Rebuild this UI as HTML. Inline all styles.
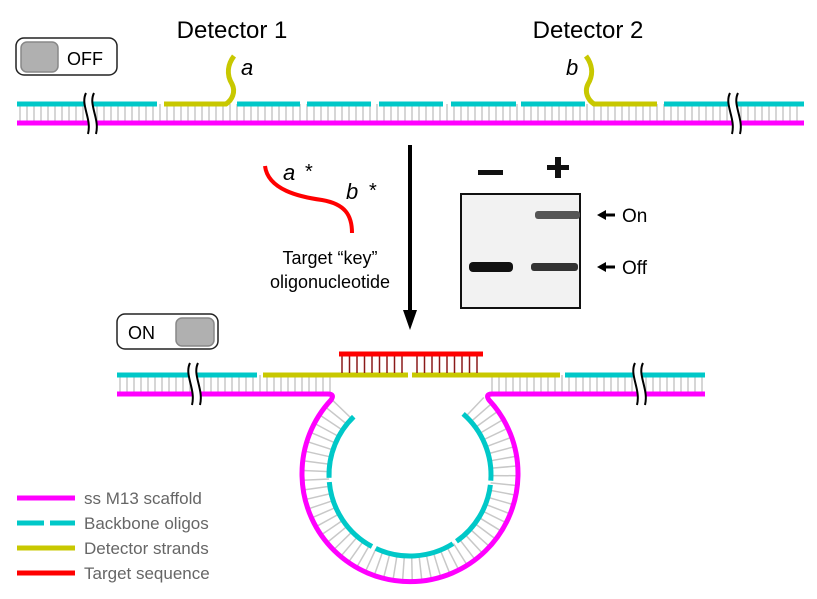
<!DOCTYPE html>
<html><head><meta charset="utf-8"><style>
html,body{margin:0;padding:0;background:#fff;}
svg{display:block;font-family:"Liberation Sans",sans-serif;}
</style></head><body>
<svg id="s" width="817" height="599" viewBox="0 0 817 599" xmlns="http://www.w3.org/2000/svg">
<g id="rungs" stroke="#c8c8c8" stroke-width="1.5"></g>
<!-- top duplex -->
<line x1="17" y1="123" x2="804" y2="123" stroke="#ff00ff" stroke-width="5"/>
<g stroke="#00c8c8" stroke-width="5">
<line x1="17" y1="104" x2="157" y2="104"/>
<line x1="237" y1="104" x2="300" y2="104"/>
<line x1="307" y1="104" x2="371" y2="104"/>
<line x1="379" y1="104" x2="443" y2="104"/>
<line x1="451" y1="104" x2="516" y2="104"/>
<line x1="521" y1="104" x2="585" y2="104"/>
<line x1="664" y1="104" x2="804" y2="104"/>
</g>
<g stroke="#c8c800" stroke-width="5" fill="none">
<path d="M164 104 H226 C232 100 236 92 232 84 C226 74 228 64 234 56"/>
<path d="M657 104 H594 C588 100 584 92 588 84 C594 74 592 64 586 56"/>
</g>
<!-- bottom duplex -->
<path d="M117 394 H328 Q335 394 331 400 A108 108 0 1 0 489 400 Q485 394 492 394 H705" stroke="#ff00ff" stroke-width="5" fill="none"/>
<g stroke="#00c8c8" stroke-width="5">
<line x1="117" y1="375" x2="257" y2="375"/>
<line x1="565" y1="375" x2="705" y2="375"/>
</g>
<g id="cyanarc" stroke="#00c8c8" stroke-width="5" fill="none"></g>
<g stroke="#c8c800" stroke-width="5">
<line x1="263" y1="375" x2="408" y2="375"/>
<line x1="412" y1="375" x2="560" y2="375"/>
</g>
<g id="redr" stroke="#8b1a1a" stroke-width="1.5"></g>
<line x1="339" y1="354" x2="483" y2="354" stroke="#ff0000" stroke-width="5"/>
<!-- breaks -->
<g id="brkw" stroke="#fff" stroke-width="7" fill="none"></g>
<g id="brk" stroke="#000" stroke-width="2" fill="none"></g>
<!-- labels -->
<text x="232" y="38" font-size="24" text-anchor="middle">Detector 1</text>
<text x="588" y="38" font-size="24" text-anchor="middle">Detector 2</text>
<text x="241" y="75" font-size="22" font-style="italic">a</text>
<text x="566" y="75" font-size="22" font-style="italic">b</text>
<!-- switches -->
<rect x="16" y="38" width="101" height="37" rx="8" fill="#fff" stroke="#222" stroke-width="1.5"/>
<rect x="21" y="42" width="37" height="30" rx="6" fill="#b0b0b0" stroke="#888" stroke-width="1.5"/>
<text x="67" y="65" font-size="18">OFF</text>
<rect x="117" y="314" width="101" height="35" rx="8" fill="#fff" stroke="#222" stroke-width="1.5"/>
<rect x="176" y="318" width="38" height="28" rx="6" fill="#b0b0b0" stroke="#888" stroke-width="1.5"/>
<text x="128" y="339" font-size="18">ON</text>
<!-- key -->
<path d="M265 166 C268 190 300 197 322 200 C345 204 352 215 352 233" stroke="#ff0000" stroke-width="4" fill="none"/>
<text x="283" y="180" font-size="22" font-style="italic">a</text>
<text x="305" y="178" font-size="20">*</text>
<text x="346" y="199" font-size="22" font-style="italic">b</text>
<text x="369" y="197" font-size="20">*</text>
<text x="330" y="264" font-size="18" text-anchor="middle">Target “key”</text>
<text x="330" y="288" font-size="18" text-anchor="middle">oligonucleotide</text>
<!-- arrow -->
<line x1="410" y1="145" x2="410" y2="312" stroke="#000" stroke-width="4"/>
<polygon points="403,310 417,310 410,330" fill="#000"/>
<!-- gel -->
<rect x="478" y="170" width="25" height="5" fill="#111"/>
<rect x="547" y="165" width="22" height="5" fill="#111"/>
<rect x="555" y="157" width="6" height="21" fill="#111"/>
<rect x="461" y="194" width="119" height="114" fill="#f2f2f2" stroke="#111" stroke-width="2"/>
<rect x="535" y="211" width="45" height="8" rx="3" fill="#555"/>
<rect x="469" y="262" width="44" height="10" rx="4" fill="#111"/>
<rect x="531" y="263" width="47" height="8" rx="3" fill="#333"/>
<polygon points="597,215 606,210 606,220" fill="#000"/><line x1="604" y1="215" x2="615" y2="215" stroke="#000" stroke-width="3"/>
<text x="622" y="222" font-size="19">On</text>
<polygon points="597,267 606,262 606,272" fill="#000"/><line x1="604" y1="267" x2="615" y2="267" stroke="#000" stroke-width="3"/>
<text x="622" y="274" font-size="19">Off</text>
<!-- legend -->
<line x1="17" y1="498" x2="75" y2="498" stroke="#ff00ff" stroke-width="5"/>
<line x1="17" y1="523" x2="44" y2="523" stroke="#00c8c8" stroke-width="5"/>
<line x1="50" y1="523" x2="75" y2="523" stroke="#00c8c8" stroke-width="5"/>
<line x1="17" y1="548" x2="75" y2="548" stroke="#c8c800" stroke-width="5"/>
<line x1="17" y1="573" x2="75" y2="573" stroke="#ff0000" stroke-width="5"/>
<g font-size="17" fill="#666">
<text x="84" y="504">ss M13 scaffold</text>
<text x="84" y="529">Backbone oligos</text>
<text x="84" y="554">Detector strands</text>
<text x="84" y="579">Target sequence</text>
</g>
</svg>
<script>
var NS="http://www.w3.org/2000/svg";
function L(g,x1,y1,x2,y2){var l=document.createElementNS(NS,"line");l.setAttribute("x1",x1);l.setAttribute("y1",y1);l.setAttribute("x2",x2);l.setAttribute("y2",y2);document.getElementById(g).appendChild(l);}
for(var x=20;x<=802;x+=7)L("rungs",x,104,x,123);
for(var x=120;x<=330;x+=7)L("rungs",x,375,x,394);
for(var x=492;x<=704;x+=7)L("rungs",x,375,x,394);
var cx=410,cy=475;
for(var d=224;d>=-48;d-=5.2){var t=d*Math.PI/180;L("rungs",cx+81*Math.cos(t),cy+81*Math.sin(t),cx+107*Math.cos(t),cy+107*Math.sin(t));}
for(var x=342;x<=481;x+=7.5){if(Math.abs(x-410)<3)continue;L("redr",x,355,x,373);}
function arc(a1,a2,r){var t1=a1*Math.PI/180,t2=a2*Math.PI/180;var p=document.createElementNS(NS,"path");
p.setAttribute("d","M"+(cx+r*Math.cos(t1))+" "+(cy+r*Math.sin(t1))+" A"+r+" "+r+" 0 0 0 "+(cx+r*Math.cos(t2))+" "+(cy+r*Math.sin(t2)));document.getElementById("cyanarc").appendChild(p);}
arc(226,178,81);arc(175,118,81);arc(115,58,81);arc(55,7,81);arc(4,-49,81);
function P(g,d){var p=document.createElementNS(NS,"path");p.setAttribute("d",d);document.getElementById(g).appendChild(p);}
function brk(x,y1,y2){var c=function(xx){return "M"+(xx-1)+" "+y1+" C"+(xx-7)+" "+(y1+12)+" "+(xx+5)+" "+(y2-16)+" "+(xx+1)+" "+y2;};
P("brkw",c(x));P("brk",c(x-4));P("brk",c(x+4));}
brk(91,93,134);brk(735,93,134);brk(195,363,405);brk(640,363,405);
</script>
</body></html>
